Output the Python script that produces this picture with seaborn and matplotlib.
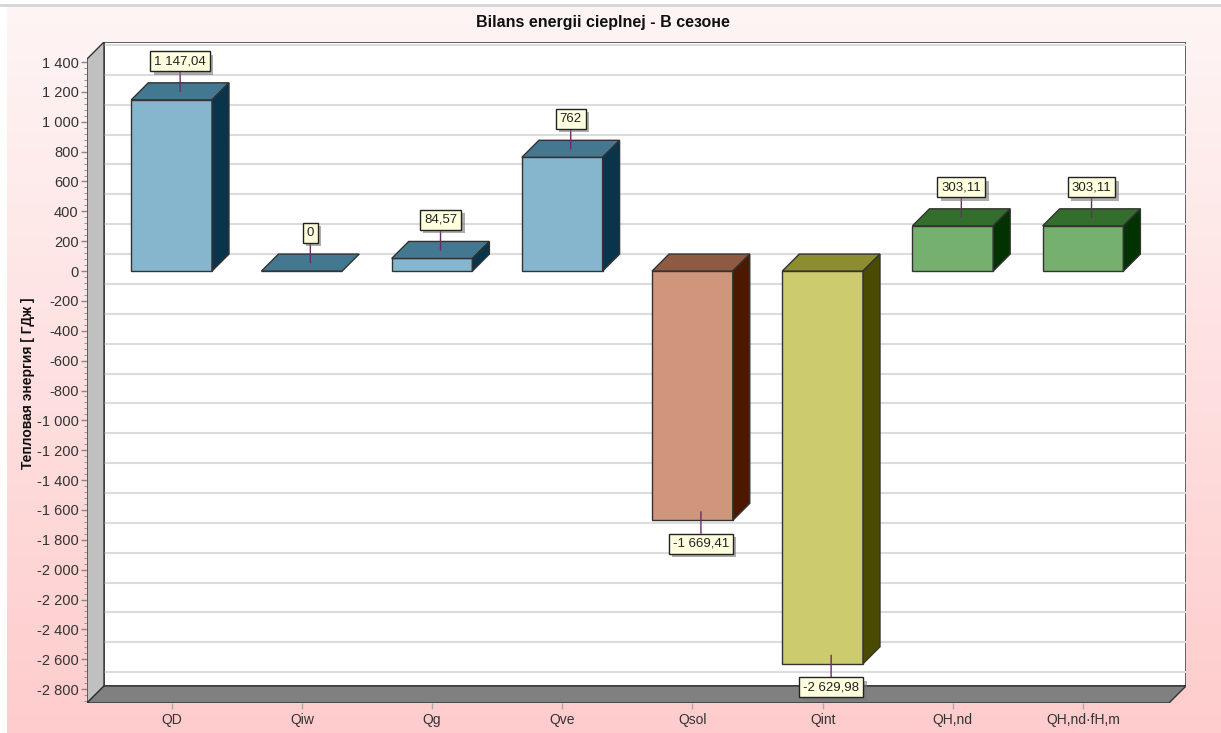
import numpy as np
import pandas as pd
import matplotlib
matplotlib.use("Agg")
import matplotlib.pyplot as plt
from matplotlib.patches import Polygon, Rectangle
import matplotlib.patheffects as pe
import seaborn as sns

# data
categories = ["QD", "Qiw", "Qg", "Qve", "Qsol", "Qint", "QH,nd", "QH,nd·fH,m"]
values = [1147.04, 0, 84.57, 762, -1669.41, -2629.98, 303.11, 303.11]
labels = ["1 147,04", "0", "84,57", "762", "-1 669,41", "-2 629,98", "303,11", "303,11"]
yticks = list(range(-2800, 1401, 200))

# colours: front, top, side face of each bar
front_cols = ["#86B5CE", "#86B5CE", "#86B5CE", "#86B5CE", "#CF967C", "#CCCC6E", "#75B06F", "#75B06F"]
top_cols = ["#447790", "#447790", "#447790", "#447790", "#8F5A42", "#8C8C30", "#336E2D", "#336E2D"]
side_cols = ["#08354A", "#08354A", "#08354A", "#08354A", "#4D1800", "#4A4A00", "#003300", "#003300"]

sns.set_style("white")
plt.rcParams['font.family'] = ['Liberation Sans', 'DejaVu Sans']

W, H = 1221, 733
fig = plt.figure(figsize=(W / 100, H / 100), dpi=100)
fig.patch.set_facecolor("white")

# pink gradient background panel
bg = fig.add_axes([7 / W, 0, 1 - 7 / W, (H - 6) / H])
grad = np.linspace(0, 1, 256).reshape(-1, 1)
cmap = matplotlib.colors.LinearSegmentedColormap.from_list("pk", ["#FFCCCC", "#FEF5F5"])
bg.imshow(grad, aspect="auto", cmap=cmap, origin="lower", extent=[0, 1, 0, 1])
bg.set_axis_off()
fig.add_artist(plt.Line2D([0, 1], [1 - 5 / H, 1 - 5 / H], transform=fig.transFigure,
                          color="#D5D5D5", lw=2))

# plot frame in pixels (front plane + 3D depth)
px_left, px_right, px_bot, px_top = 87, 1186, 703, 42
depth_px = 17
x0 = -0.65
xscale = 130.2           # px per category
ybot = -2893
yscale = 0.1493          # px per unit
xmax = x0 + (px_right - px_left) / xscale
ymax = ybot + (px_bot - px_top) / yscale
dx = depth_px / xscale
dy = depth_px / yscale
x1 = xmax - dx
ytop = ymax - dy

ax = fig.add_axes([px_left / W, (H - px_bot) / H, (px_right - px_left) / W, (px_bot - px_top) / H])
ax.patch.set_alpha(0)

# back wall, grid, left wall and floor
ax.add_patch(Rectangle((x0 + dx, ybot + dy), xmax - x0 - dx, ymax - ybot - dy,
                       fc="white", ec="#444444", lw=1.2, zorder=0.5))
for t in yticks:
    ax.plot([x0 + dx, xmax], [t + dy, t + dy], color="#DCDCDC", lw=1.5, zorder=0.6)
ax.add_patch(Polygon([(x0, ybot), (x0, ytop), (x0 + dx, ymax), (x0 + dx, ybot + dy)],
                     closed=True, fc="#C0C0C0", ec="#333333", lw=1, zorder=0.7))
ax.add_patch(Polygon([(x0, ybot), (x0 + dx, ybot + dy), (xmax, ybot + dy), (x1, ybot)],
                     closed=True, fc="#808080", ec="#333333", lw=1, zorder=0.7))

df = pd.DataFrame({"cat": categories, "val": values})
sns.barplot(data=df, x="cat", y="val", hue="cat", palette=front_cols, legend=False,
            width=0.62, edgecolor="#333333", linewidth=1, saturation=1, ax=ax, zorder=3)

# top and side faces of each bar
for i, p in enumerate(ax.patches[-len(values):]):
    xl = p.get_x()
    xr = xl + p.get_width()
    v = values[i]
    top = max(v, 0)
    bot = min(v, 0)
    ax.add_patch(Polygon([(xl, top), (xl + dx, top + dy), (xr + dx, top + dy), (xr, top)],
                         closed=True, fc=top_cols[i], ec="#333333", lw=1, zorder=3))
    if v != 0:
        ax.add_patch(Polygon([(xr, bot), (xr, top), (xr + dx, top + dy), (xr + dx, bot + dy)],
                             closed=True, fc=side_cols[i], ec="#333333", lw=1, zorder=3))

# value labels with leader lines
for i, v in enumerate(values):
    anchor = (i + dx / 2, v + dy / 2)
    off = 30 if v >= 0 else -32
    t = ax.annotate(labels[i], xy=anchor, xytext=(0, off), textcoords="offset pixels",
                    ha="center", va="center", fontsize=9.5, color="#222222",
                    bbox=dict(boxstyle="square,pad=0.3", fc="#FFFFE0", ec="#222222", lw=1),
                    arrowprops=dict(arrowstyle="-", color="#6B2A6B", lw=1, shrinkA=0, shrinkB=0),
                    zorder=6)
    t.get_bbox_patch().set_path_effects([
        pe.SimplePatchShadow(offset=(2.5, -2.5), shadow_rgbFace="#777777", alpha=0.6),
        pe.Normal()])

ax.set_xlim(x0, xmax)
ax.set_ylim(ybot, ymax)
for s in ax.spines.values():
    s.set_visible(False)
ax.set_yticks(yticks)
ax.set_yticklabels([f"{t:,}".replace(",", " ") for t in yticks])
ax.set_yticks(np.arange(-2880, 1401, 40), minor=True)
ax.set_xticks(range(len(categories)))
ax.set_xticklabels(categories)
ax.tick_params(axis="y", which="major", length=4, width=1, color="#888888",
               labelsize=10.5, labelcolor="#333333", pad=2, left=True)
ax.tick_params(axis="y", which="minor", length=2, width=0.8, color="#999999", left=True)
ax.tick_params(axis="x", length=4, width=1, color="#AAAAAA", labelsize=10,
               labelcolor="#333333", pad=3, bottom=True)
ax.set_xlabel("")
ax.set_ylabel("")

fig.text(603 / W, 1 - 23 / H, "Bilans energii cieplnej - В сезоне", ha="center", va="center",
         fontsize=11.5, fontweight="bold", color="#111111")
fig.text(28 / W, 1 - 383 / H, "Тепловая энергия [ ГДж ]", ha="center", va="center",
         rotation=90, fontsize=10, fontweight="bold", color="#111111")

fig.savefig("out.png", dpi=100)
